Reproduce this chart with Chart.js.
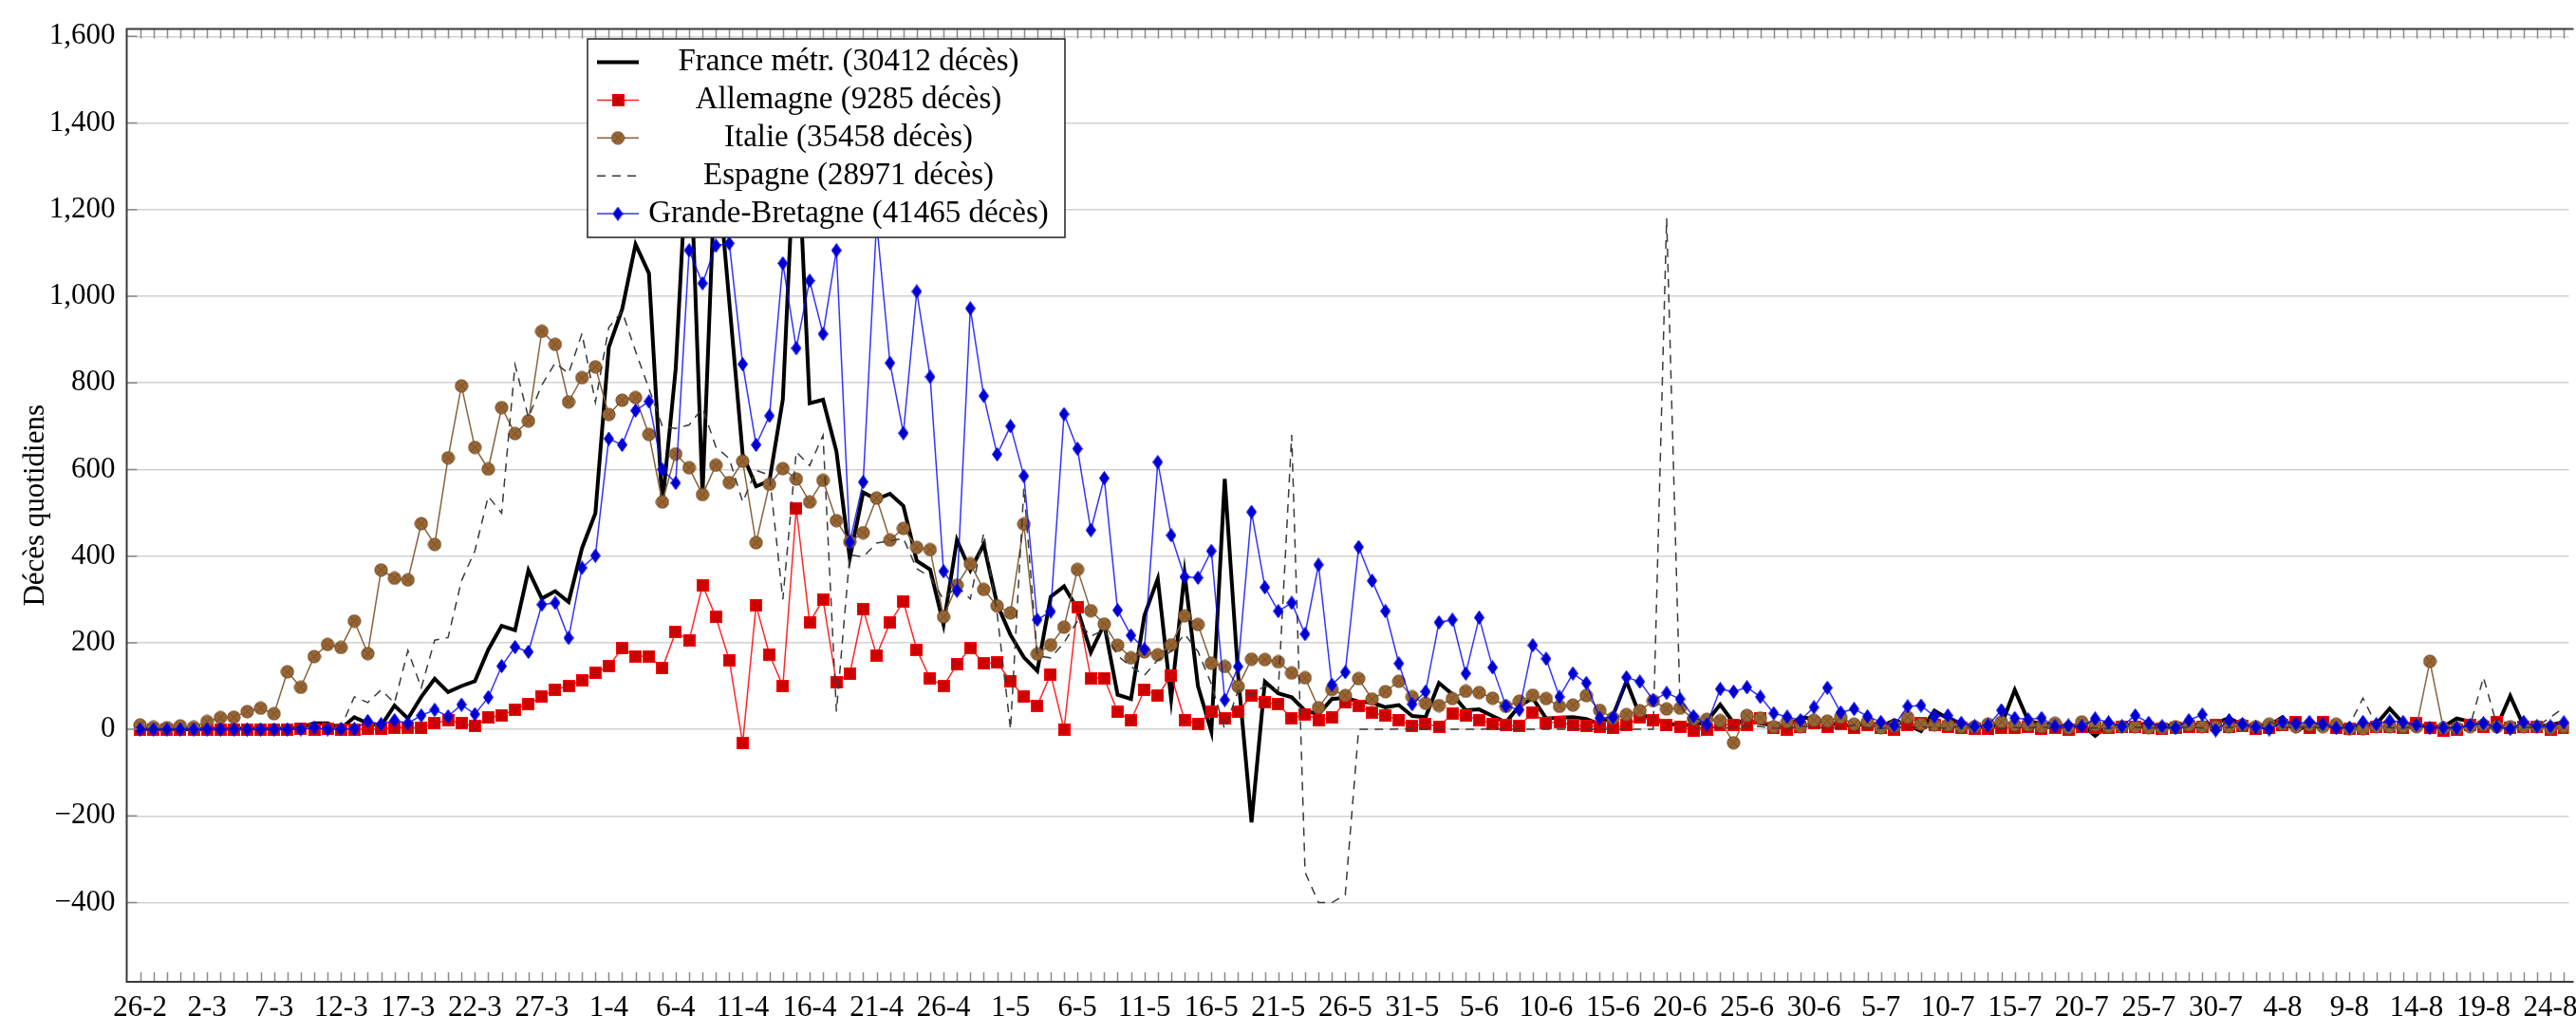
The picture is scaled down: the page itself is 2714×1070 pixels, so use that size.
<!DOCTYPE html>
<html>
<head>
<meta charset="utf-8">
<script src="https://cdn.jsdelivr.net/npm/chart.js@4.4.1/dist/chart.umd.min.js"></script>
<style>
    html, body { margin: 0; padding: 0; background: #fff; overflow: hidden; }
    canvas { display: block; }
</style>
</head>
<body>
<canvas id="graphique" width="2714" height="1070"></canvas>
<script>
// jour 0 = 26-2, un point par jour
var joursReperes = [0, 5, 10, 15, 20, 25, 30, 35, 40, 45, 50, 55, 60, 65, 70, 75, 80, 85, 90,
    95, 100, 105, 110, 115, 120, 125, 130, 135, 140, 145, 150, 155, 160, 165, 170, 175, 180];
var etiquettesX = ['26-2', '2-3', '7-3', '12-3', '17-3', '22-3', '27-3', '1-4', '6-4', '11-4',
    '16-4', '21-4', '26-4', '1-5', '6-5', '11-5', '16-5', '21-5', '26-5', '31-5', '5-6', '10-6',
    '15-6', '20-6', '25-6', '30-6', '5-7', '10-7', '15-7', '20-7', '25-7', '30-7', '4-8', '9-8',
    '14-8', '19-8', '24-8'];
var valeursY = [-400, -200, 0, 200, 400, 600, 800, 1000, 1200, 1400, 1600];

var noms = ['France métr. (30412 décès)', 'Allemagne (9285 décès)', 'Italie (35458 décès)',
    'Espagne (28971 décès)', 'Grande-Bretagne (41465 décès)'];

var france = [
    1, 0, 0, 1, 0, 1, 2, 0, 3, 1,
    2, 2, 4, 14, 14, 2, 28, 14, 8, 55,
    25, 75, 117, 86, 100, 111, 184, 239, 229, 367,
    302, 319, 294, 418, 499, 882, 970, 1120, 1053, 518,
    833, 1417, 541, 1341, 987, 635, 561, 574, 762, 1438,
    753, 761, 642, 395, 547, 531, 544, 516, 389, 369,
    242, 437, 367, 427, 289, 218, 166, 135, 306, 330,
    278, 178, 243, 80, 70, 263, 348, 70, 360, 100,
    -5, 578, 125, -215, 110, 83, 74, 43, 35, 70,
    73, 64, 62, 51, 56, 31, 28, 107, 81, 44,
    46, 31, 16, 54, 72, 25, 27, 28, 24, 12,
    32, 111, 32, 28, 12, 12, 8, 18, 57, 15,
    20, 14, 10, 5, 28, 24, 14, 10, 8, 15,
    6, 21, 10, -4, 43, 25, 12, 5, 8, 10,
    91, 20, 12, 10, 6, 12, -15, 10, 8, 12,
    10, 8, 10, 12, 9, 14, 26, 10, 7, 9,
    28, -4, 12, 10, 8, 6, 9, 12, 48, 14,
    10, 7, 6, 25, 18, 5, 6, 77, 8, 7,
    10, 17
];

var allemagne = [
    0, 0, 0, 0, 0, 0, 0, 0, 0, 0,
    0, 0, 2, 0, 1, 0, 0, 1, 1, 4,
    4, 3, 14, 21, 14, 7, 27, 32, 46, 59,
    75, 92, 100, 113, 130, 146, 187, 169, 169, 141,
    225, 205, 333, 259, 160, -32, 286, 173, 100, 510,
    246, 300, 108, 128, 277, 171, 246, 295, 184, 117,
    100, 150, 188, 152, 154, 112, 75, 55, 127, 0,
    282, 118, 118, 40, 20, 92, 78, 124, 22, 12,
    40, 25, 40, 78, 62, 58, 25, 35, 22, 27,
    62, 54, 39, 31, 22, 8, 13, 6, 36, 31,
    22, 13, 9, 8, 39, 15, 17, 9, 8, 6,
    3, 9, 28, 20, 9, 6, -2, 0, 11, 11,
    10, 26, 3, 0, 6, 14, 6, 12, 4, 10,
    3, 0, 10, 14, 9, 6, 3, 1, 1, 4,
    3, 6, 1, 3, 0, 6, 4, 4, 6, 6,
    3, 1, 4, 6, 5, 10, 5, 8, 1, 3,
    10, 17, 3, 16, 4, 1, 1, 6, 6, 4,
    14, 4, -3, 0, 9, 6, 17, 3, 6, 6,
    0, 3
];

var italie = [
    10, 5, 4, 8, 5, 18, 27, 28, 41, 49,
    36, 133, 97, 168, 196, 189, 250, 175, 368, 349,
    345, 475, 427, 627, 793, 651, 601, 743, 683, 712,
    919, 889, 756, 812, 837, 727, 760, 766, 681, 525,
    636, 604, 542, 610, 570, 619, 431, 566, 602, 578,
    525, 575, 482, 433, 454, 534, 437, 464, 420, 415,
    260, 333, 382, 323, 285, 269, 474, 174, 195, 236,
    369, 274, 243, 194, 165, 179, 172, 195, 262, 242,
    153, 145, 99, 162, 161, 156, 130, 119, 50, 92,
    78, 117, 70, 87, 111, 75, 60, 55, 71, 88,
    85, 72, 53, 65, 79, 71, 53, 56, 78, 44,
    26, 34, 43, 66, 47, 49, 24, 23, 20, -31,
    32, 26, 6, 17, 6, 21, 19, 28, 12, 17,
    4, 7, 28, 12, 10, 10, 6, 6, 12, 17,
    10, 10, 6, 14, 3, 17, 10, 6, 6, 6,
    4, 3, 6, 10, 6, 6, 6, 10, 6, 12,
    12, 6, 10, 6, 12, 1, 1, 6, 6, 6,
    6, 157, 3, 3, 6, 10, 6, 6, 6, 6,
    3, 6
];

var espagne = [
    0, 0, 0, 0, 0, 0, 0, 0, 0, 0,
    3, 2, 7, 8, 2, 5, 75, 62, 91, 61,
    182, 96, 206, 212, 343, 412, 538, 499, 842, 720,
    795, 846, 822, 914, 755, 928, 965, 873, 787, 700,
    695, 703, 742, 652, 625, 525, 598, 587, 300, 641,
    609, 679, 41, 403, 398, 430, 435, 441, 371, 352,
    300, 331, 301, 453, 268, 0, 557, 170, 165, 200,
    250, 215, 230, 170, 145, 125, 160, 180, 220, 180,
    105, 0, 90, 80, 100, 90, 680, -330, -400, -400,
    -382, 0, 0, 0, 1, 0, 0, 0, 0, 0,
    0, 2, 0, 1, 0, 0, 0, 0, 1, 0,
    0, 0, 0, 0, 1180, 60, 2, 5, 3, 4,
    8, 6, 3, 2, 7, 5, 3, 4, 10, 4,
    2, 5, 3, 6, 4, 2, 8, 3, 5, 2,
    4, 3, 6, 2, 5, 4, 3, 2, 6, 5,
    3, 4, 2, 6, 3, 5, 4, 8, 3, 18,
    5, 4, 6, 3, 5, 10, 72, 10, 4, 3,
    6, 5, 3, 4, 8, 120, 10, 5, 4, 6,
    28, 50
];

var grandeBretagne = [
    0, 0, 0, 0, 0, 0, 0, 0, 0, 0,
    0, 0, 0, 4, 0, 1, 1, 19, 12, 21,
    14, 32, 45, 30, 57, 35, 74, 146, 190, 179,
    288, 292, 211, 373, 401, 671, 657, 736, 757, 600,
    569, 1106, 1030, 1117, 1122, 843, 657, 724, 1076, 880,
    1036, 913, 1106, 432, 571, 1172, 846, 684, 1011, 814,
    365, 320, 972, 770, 635, 700, 585, 253, 272, 728,
    648, 460, 580, 275, 217, 185, 617, 448, 352, 350,
    412, 68, 145, 502, 328, 273, 292, 220, 380, 103,
    132, 421, 343, 273, 152, 58, 87, 247, 253, 129,
    258, 143, 54, 45, 194, 163, 75, 129, 107, 26,
    28, 120, 110, 67, 84, 70, 30, 11, 93, 87,
    97, 75, 37, 29, 21, 51, 96, 39, 47, 30,
    17, 9, 53, 55, 30, 32, 15, 7, 9, 44,
    26, 23, 26, 7, 9, 7, 25, 16, 7, 32,
    15, 7, 3, 21, 34, -2, 21, 12, 5, 0,
    17, 13, 17, 12, 3, 4, 17, 12, 20, 17,
    10, 3, 4, 3, 10, 14, 5, 1, 17, 7,
    7, 16
];

var famille = "'Liberation Serif', 'DejaVu Serif', serif";
var police = { family: famille, size: 31 };
var policeLegende = '33px ' + famille;
var jourMax = 181.38;

function versPoints(valeurs) {
    return valeurs.map(function (v, i) { return { x: i, y: v }; });
}

// petites images pour les marques (carré, rond barré, losange)
function creerMarque(l, h, dessin) {
    var c = document.createElement('canvas');
    c.width = l;
    c.height = h;
    dessin(c.getContext('2d'));
    return c;
}

var marqueCarre = creerMarque(13, 13, function (c) {
    c.fillStyle = '#cc0000';
    c.strokeStyle = '#ff0000';
    c.lineWidth = 1;
    c.fillRect(0.5, 0.5, 12, 12);
    c.strokeRect(0.5, 0.5, 12, 12);
});

var marqueRond = creerMarque(15, 15, function (c) {
    var r = 6.6;
    c.beginPath();
    c.arc(7.5, 7.5, r, 0, Math.PI * 2);
    c.fillStyle = '#996633';
    c.fill();
    c.strokeStyle = '#734d26';
    c.lineWidth = 1;
    c.stroke();
    var d = r * Math.SQRT1_2;
    c.beginPath();
    c.moveTo(7.5 - d, 7.5 - d); c.lineTo(7.5 + d, 7.5 + d);
    c.moveTo(7.5 + d, 7.5 - d); c.lineTo(7.5 - d, 7.5 + d);
    c.stroke();
});

var marqueLosange = creerMarque(11, 15, function (c) {
    c.beginPath();
    c.moveTo(5.5, 0.5); c.lineTo(10.5, 7.5); c.lineTo(5.5, 14.5); c.lineTo(0.5, 7.5);
    c.closePath();
    c.fillStyle = '#0000cc';
    c.fill();
    c.strokeStyle = '#0000ff';
    c.lineWidth = 1;
    c.stroke();
});

function formatY(v) {
    var t = Math.abs(v).toLocaleString('en-US');
    return v < 0 ? '\u2212' + t : t;
}

// cadre, graduations journalières (haut et bas) et graduations de l'axe y
var cadre = {
    id: 'cadre',
    afterDatasetsDraw: function (chart) {
        var ctx = chart.ctx, a = chart.chartArea, x = chart.scales.x, y = chart.scales.y;
        ctx.save();
        ctx.beginPath();
        ctx.strokeStyle = '#8a8a8a';
        ctx.lineWidth = 1.5;
        for (var j = 0; j <= jourMax; j++) {
            var px = Math.round(x.getPixelForValue(j)) + 0.5;
            ctx.moveTo(px, a.bottom); ctx.lineTo(px, a.bottom - 10);
            ctx.moveTo(px, a.top); ctx.lineTo(px, a.top + 10);
        }
        valeursY.forEach(function (v) {
            var py = y.getPixelForValue(v);
            ctx.moveTo(a.left, py); ctx.lineTo(a.left + 11, py);
        });
        ctx.stroke();

        ctx.beginPath();
        ctx.strokeStyle = '#3a3a3a';
        ctx.lineWidth = 2;
        ctx.moveTo(a.right + 5, a.top);
        ctx.lineTo(a.left, a.top);
        ctx.lineTo(a.left, a.bottom);
        ctx.lineTo(a.right + 5, a.bottom);
        ctx.stroke();
        ctx.restore();
    }
};

// légende encadrée posée sur les courbes, comme dans la figure d'origine
var legendeEncadree = {
    id: 'legendeEncadree',
    afterDraw: function (chart) {
        var ctx = chart.ctx;
        var bx = 619, by = 41, bw = 503, bh = 209;
        ctx.save();
        ctx.fillStyle = '#fff';
        ctx.fillRect(bx, by, bw, bh);
        ctx.strokeStyle = '#222';
        ctx.lineWidth = 1.5;
        ctx.strokeRect(bx, by, bw, bh);

        chart.data.datasets.forEach(function (ds, i) {
            var ly = 65.5 + i * 39.9;
            ctx.save();
            ctx.beginPath();
            ctx.strokeStyle = ds.borderColor;
            ctx.lineWidth = ds.borderWidth;
            ctx.setLineDash(ds.borderDash || []);
            ctx.moveTo(629, ly);
            ctx.lineTo(673, ly);
            ctx.stroke();
            ctx.restore();
            if (ds.pointStyle && typeof ds.pointStyle === 'object') {
                var m = ds.pointStyle;
                ctx.drawImage(m, 651 - m.width / 2, ly - m.height / 2);
            }
            ctx.fillStyle = '#000';
            ctx.font = policeLegende;
            ctx.textAlign = 'center';
            ctx.textBaseline = 'middle';
            ctx.fillText(ds.label, 894, ly);
        });
        ctx.restore();
    }
};

var chart = new Chart(document.getElementById('graphique'), {
    type: 'line',
    data: {
        datasets: [{
            label: noms[0],
            data: versPoints(france),
            borderColor: '#000',
            borderWidth: 4,
            pointRadius: 0,
            order: 4
        }, {
            label: noms[1],
            data: versPoints(allemagne),
            borderColor: 'rgba(255,0,0,0.85)',
            borderWidth: 1.5,
            pointStyle: marqueCarre,
            pointRadius: 6,
            order: 3
        }, {
            label: noms[2],
            data: versPoints(italie),
            borderColor: '#86633f',
            borderWidth: 1.5,
            pointStyle: marqueRond,
            pointRadius: 6,
            order: 2
        }, {
            label: noms[3],
            data: versPoints(espagne),
            borderColor: '#3a3a3a',
            borderWidth: 1.5,
            borderDash: [9, 7],
            pointRadius: 0,
            order: 1
        }, {
            label: noms[4],
            data: versPoints(grandeBretagne),
            borderColor: 'rgba(0,0,255,0.8)',
            borderWidth: 1.5,
            pointStyle: marqueLosange,
            pointRadius: 6,
            order: 0
        }]
    },
    options: {
        responsive: false,
        animation: false,
        events: [],
        layout: { padding: { top: 20, left: 0, right: 0, bottom: 0 } },
        plugins: {
            legend: { display: false },
            tooltip: { enabled: false }
        },
        scales: {
            x: {
                type: 'linear',
                min: -1,
                max: jourMax,
                grid: { display: false },
                border: { display: false },
                afterBuildTicks: function (s) {
                    s.ticks = joursReperes.map(function (v) { return { value: v }; });
                    s.ticks.push({ value: jourMax });
                },
                afterFit: function (s) { s.height = 36; },
                ticks: {
                    autoSkip: false,
                    maxRotation: 0,
                    padding: 1,
                    color: '#000',
                    font: police,
                    callback: function (v) {
                        var k = joursReperes.indexOf(v);
                        return k >= 0 ? etiquettesX[k] : '';
                    }
                }
            },
            y: {
                min: -583,
                max: 1617,
                afterBuildTicks: function (s) {
                    s.ticks = valeursY.map(function (v) { return { value: v }; });
                },
                afterFit: function (s) { s.width = 133.5; },
                grid: { color: '#d2d2d2', lineWidth: 1.5, drawTicks: false },
                border: { display: false },
                ticks: {
                    padding: 12,
                    color: '#000',
                    font: police,
                    callback: formatY
                },
                title: {
                    display: true,
                    text: 'Décès quotidiens',
                    color: '#000',
                    font: police,
                    padding: { top: 19, bottom: 0 }
                }
            }
        }
    },
    plugins: [cadre, legendeEncadree]
});
</script>
</body>
</html>
